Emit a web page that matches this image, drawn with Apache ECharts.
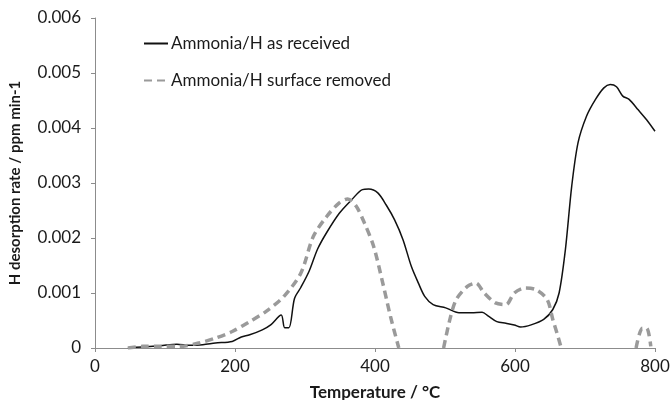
<!DOCTYPE html>
<html>
<head>
<meta charset="utf-8">
<script src="https://cdn.jsdelivr.net/npm/echarts@6/dist/echarts.min.js"></script>
<style>
  html, body { margin: 0; padding: 0; background: #fff; }
  #main { width: 670px; height: 400px; }
</style>
</head>
<body>
<div id="main"></div>
<script>
// as received (solid)
var tempReceived = [47, 68, 93, 117, 135, 154, 172, 196, 209, 221, 239, 251, 266, 271, 277, 285, 294, 306, 318, 331, 349, 367, 382, 391, 404, 416, 428, 440, 452, 462, 471, 483, 501, 520, 538, 553, 562, 574, 587, 599, 608, 623, 641, 654, 663, 672, 681, 690, 702, 715, 727, 736, 745, 754, 763, 776, 788, 800];
var rateReceived = [0, 0.00002, 0.00004, 0.00007, 0.00005, 0.00006, 0.00009, 0.00012, 0.0002, 0.00024, 0.00033, 0.00042, 0.0006, 0.00037, 0.00037, 0.0009, 0.0011, 0.0014, 0.0018, 0.0021, 0.00245, 0.0027, 0.00288, 0.00289, 0.00282, 0.0026, 0.00233, 0.00197, 0.00148, 0.00118, 0.00094, 0.00079, 0.00073, 0.00064, 0.00064, 0.00065, 0.00058, 0.00048, 0.00045, 0.00042, 0.00038, 0.00042, 0.00052, 0.0007, 0.001, 0.00179, 0.00294, 0.00373, 0.00421, 0.00452, 0.00473, 0.00479, 0.00475, 0.00458, 0.00452, 0.00433, 0.00415, 0.00394];

// surface removed (dashed), null = gap
var tempRemoved = [47, 68, 93, 120, 148, 172, 196, 221, 245, 270, 294, 312, 331, 349, 361, 373, 385, 398, 410, 422, 434, 466, 498, 507, 516, 532, 544, 556, 572, 587, 599, 614, 630, 646, 654, 660, 666, 720, 773, 782, 788, 794];
var rateRemoved = [0, 0.00003, 0.00003, 0.00003, 0.00009, 0.00018, 0.0003, 0.00048, 0.00067, 0.00094, 0.00136, 0.00203, 0.00239, 0.00264, 0.00271, 0.00258, 0.00227, 0.00185, 0.00124, 0.00058, 0, null, 0, 0.00052, 0.00088, 0.00112, 0.00118, 0.001, 0.00082, 0.00079, 0.001, 0.00109, 0.00106, 0.00088, 0.00052, 0.00027, 0, null, 0, 0.00036, 0.00036, 0.00003];

var seriesNames = ['Ammonia/H as received', 'Ammonia/H surface removed'];
var xTicks = [0, 800, 200];
var yTicks = [0, 0.006, 0.001];

function pairs(xs, ys) {
    var out = [];
    for (var i = 0; i < xs.length; i++) out.push([xs[i], ys[i]]);
    return out;
}

var myChart = echarts.init(document.getElementById('main'));

var axisColor = '#8c8c8c';
var option = {
    backgroundColor: '#fff',
    animation: false,
    textStyle: { fontFamily: 'Lato' },
    grid: { left: 95, right: 15, top: 18, bottom: 52, outerBoundsMode: 'none', containLabel: false },
    legend: {
        orient: 'vertical',
        left: 138,
        top: 30,
        itemGap: 20,
        itemWidth: 24,
        itemHeight: 20,
        itemStyle: { opacity: 0 },
        textStyle: { fontSize: 17, color: '#1a1a1a', fontFamily: 'Lato', padding: [0, 0, 0, -2] },
        data: seriesNames
    },
    xAxis: {
        type: 'value',
        min: xTicks[0],
        max: xTicks[1],
        interval: xTicks[2],
        name: 'Temperature / °C',
        nameLocation: 'middle',
        nameGap: 36,
        nameTextStyle: { fontSize: 17, fontWeight: 'bold', color: '#1a1a1a' },
        axisLine: { show: true, lineStyle: { color: axisColor } },
        axisTick: { show: true, length: 4, lineStyle: { color: axisColor } },
        axisLabel: { fontSize: 17, color: '#1a1a1a', margin: 10 },
        splitLine: { show: false }
    },
    yAxis: {
        type: 'value',
        min: yTicks[0],
        max: yTicks[1],
        interval: yTicks[2],
        name: 'H desorption rate / ppm min-1',
        nameLocation: 'middle',
        nameGap: 72,
        nameTextStyle: { fontSize: 15, fontWeight: 'bold', color: '#1a1a1a' },
        axisLine: { show: true, lineStyle: { color: axisColor } },
        axisTick: { show: true, length: 4, lineStyle: { color: axisColor } },
        axisLabel: {
            fontSize: 17, color: '#1a1a1a', margin: 14,
            formatter: function (v) { return v === 0 ? '0' : v.toFixed(3); }
        },
        splitLine: { show: false }
    },
    series: [
        {
            name: seriesNames[0],
            type: 'line',
            data: pairs(tempReceived, rateReceived),
            showSymbol: false,
            symbol: 'none',
            smooth: 0.3,
            lineStyle: { color: '#111', width: 1.5 },
            itemStyle: { color: '#111' }
        },
        {
            name: seriesNames[1],
            type: 'line',
            data: pairs(tempRemoved, rateRemoved),
            showSymbol: false,
            symbol: 'none',
            smooth: 0.3,
            connectNulls: false,
            lineStyle: { color: '#9a9a9a', width: 3.5, type: [8, 5] },
            itemStyle: { color: '#9a9a9a' }
        }
    ]
};

myChart.setOption(option);
</script>
</body>
</html>
